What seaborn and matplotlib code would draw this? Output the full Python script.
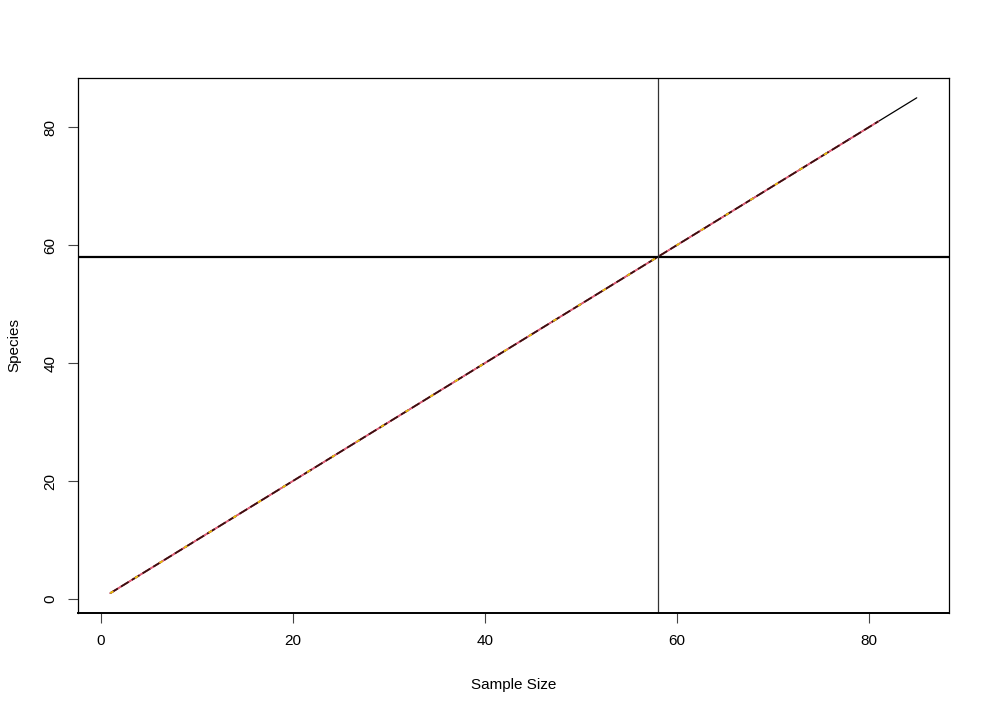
import numpy as np
import pandas as pd
import matplotlib
matplotlib.use("Agg")
import matplotlib.pyplot as plt
import seaborn as sns

# accumulation curve (full) and per-run curves
total_n = 85
run_lengths = [81, 81, 78, 77]
run_colors = ["#e8607a", "#3a1010", "#c04aa8", "#e6c400"]
run_dashes = [(1, 0), (5, 2), (2, 14), (2, 14)]
cutoff = 58

sns.set_style("white")
plt.rcParams['font.family'] = ['Liberation Sans', 'DejaVu Sans']
plt.rcParams['text.color'] = 'black'
plt.rcParams['axes.labelcolor'] = 'black'
plt.rcParams['xtick.color'] = 'black'
plt.rcParams['ytick.color'] = 'black'

fig = plt.figure(figsize=(9.9, 7.12), dpi=100)
ax = fig.add_axes([78/990, 1 - 613/712, (949-78)/990, (613-78)/712])

full = pd.DataFrame({"n": np.arange(1, total_n + 1)})
full["species"] = full["n"]
sns.lineplot(data=full, x="n", y="species", color="black", linewidth=0.9, ax=ax)

for length, col, dash in zip(run_lengths, run_colors, run_dashes):
    d = pd.DataFrame({"n": np.arange(1, length + 1)})
    d["species"] = d["n"]
    sns.lineplot(data=d, x="n", y="species", color=col, linewidth=1.3, ax=ax)
    if dash[1] > 0:
        ax.lines[-1].set_dashes(dash)

ax.axhline(cutoff, color="black", linewidth=1.6)
ax.axvline(cutoff, color="#333333", linewidth=0.9)

lo, hi = 1 - 0.04 * 84, 85 + 0.04 * 84
ax.set_xlim(lo, hi)
ax.set_ylim(lo, hi)
ticks = [0, 20, 40, 60, 80]
ax.set_xticks(ticks)
ax.set_yticks(ticks)
ax.set_yticklabels([str(t) for t in ticks], rotation=90, va="center")
ax.tick_params(axis="both", direction="out", length=7, width=0.8, labelsize=11,
               bottom=True, left=True, pad=8, color="#444444", labelcolor="black")
for s in ax.spines.values():
    s.set_visible(True)
    s.set_color("black")
    s.set_linewidth(0.9)
ax.spines["bottom"].set_linewidth(1.4)

ax.set_xlabel("Sample Size", fontsize=11, labelpad=22)
ax.set_ylabel("Species", fontsize=11, labelpad=16)
ax.grid(False)

fig.savefig("out.png", dpi=100)
